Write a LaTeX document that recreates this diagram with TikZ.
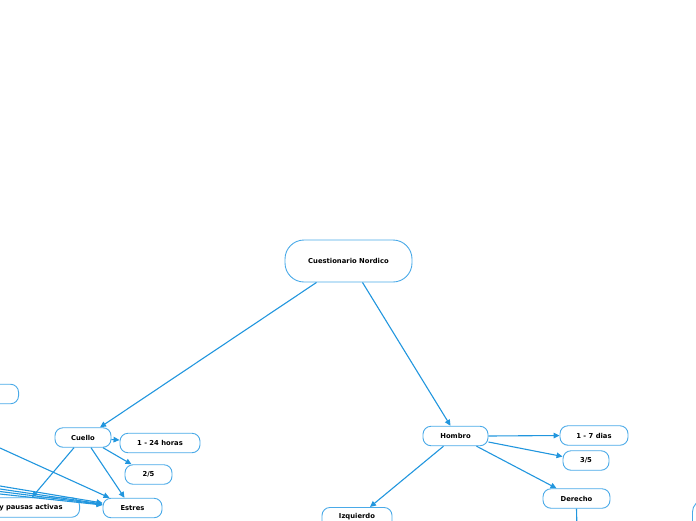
\documentclass[tikz,border=0pt]{standalone}
\usepackage{fontspec}
\setmainfont{DejaVu Sans}
\usetikzlibrary{arrows.meta}
\definecolor{linecol}{HTML}{2196DE}
\definecolor{boxcol}{HTML}{4AAAE8}
\tikzset{
  box/.style={draw=boxcol, line width=0.9pt, fill=white, rounded corners=8pt,
    font=\fontsize{6.8}{8}\selectfont\bfseries, text=black,
    minimum height=19.5pt, inner sep=0pt},
  rootbox/.style={box, rounded corners=19pt, minimum height=42pt, minimum width=127pt},
  conn/.style={draw=linecol, line width=1.1pt, -{Triangle[length=6pt,width=5.5pt]}},
  plain/.style={draw=linecol, line width=1.1pt},
}
\begin{document}
\begin{tikzpicture}[x=1pt,y=-1pt]
\useasboundingbox (0,0) rectangle (696,520);
\clip (0,0) rectangle (696,520);
% nodes
\node[rootbox] (root) at (348.5,261) {Cuestionario Nordico};
\node[box, minimum width=56pt] (cuello) at (83,437.5) {Cuello};
\node[box, minimum width=80pt] (h24) at (160,443) {1 - 24 horas};
\node[box, minimum width=47pt] (d25) at (148.5,474.5) {2/5};
\node[box, minimum width=59pt] (estres) at (132.5,508) {Estres};
\node[box, anchor=east, text width=140pt, align=right, inner xsep=17pt] (pausas) at (80,507.5) {y pausas activas};
\node[box, anchor=east, minimum width=90pt] (tl) at (19,394) {};
\node[box, minimum width=65pt] (hombro) at (455.5,436) {Hombro};
\node[box, minimum width=68pt] (d7) at (594,435.5) {1 - 7 dias};
\node[box, minimum width=46pt] (t35) at (586,460.5) {3/5};
\node[box, minimum width=67pt] (derecho) at (576.5,498.5) {Derecho};
\node[box, minimum width=70pt, minimum height=22pt, anchor=north] (izq) at (357,507) {};
\node[font=\fontsize{6.8}{8}\selectfont\bfseries, anchor=north, inner sep=0pt] (izqt) at (357,513) {Izquierdo};
\node[box, anchor=west, minimum width=60pt, minimum height=40pt, rounded corners=12pt] (rt) at (692,520) {};
\coordinate (c1) at (0,448);
\coordinate (c2) at (0,486);
\coordinate (c3) at (0,489);
\coordinate (c4) at (0,491.5);
\coordinate (c5) at (0,494);
\coordinate (dd) at (577,530);
% connectors
\draw[conn] ([xshift=-32pt]root.south) -- ([xshift=17pt]cuello.north);
\draw[conn] ([xshift=14pt]root.south) -- ([xshift=-5pt]hombro.north);
\draw[conn] ([yshift=-2pt]cuello.east) -- ([yshift=3pt]h24.west);
\draw[conn] ([xshift=20pt]cuello.south) -- ([xshift=-17pt]d25.north);
\draw[conn] ([xshift=8pt]cuello.south) -- ([xshift=-8pt]estres.north);
\draw[conn] ([xshift=-9pt]cuello.south) -- ([xshift=-48pt]pausas.north east);
\draw[conn] (c1) -- ([xshift=-23pt]estres.north);
\draw[conn] (c2) -- ([yshift=5pt]estres.west);
\draw[conn] (c3) -- ([yshift=4pt]estres.west);
\draw[conn] (c4) -- ([yshift=3.5pt]estres.west);
\draw[conn] (c5) -- ([yshift=3pt]estres.west);
\draw[conn] (hombro.east) -- (d7.west);
\draw[conn] ([yshift=-6pt]hombro.east) -- ([yshift=4pt]t35.west);
\draw[conn] ([xshift=21pt]hombro.south) -- ([xshift=-20pt]derecho.north);
\draw[conn] ([xshift=-12pt]hombro.south) -- ([xshift=13pt]izq.north);
\draw[plain] (derecho.south) -- (dd);
\end{tikzpicture}
\end{document}
